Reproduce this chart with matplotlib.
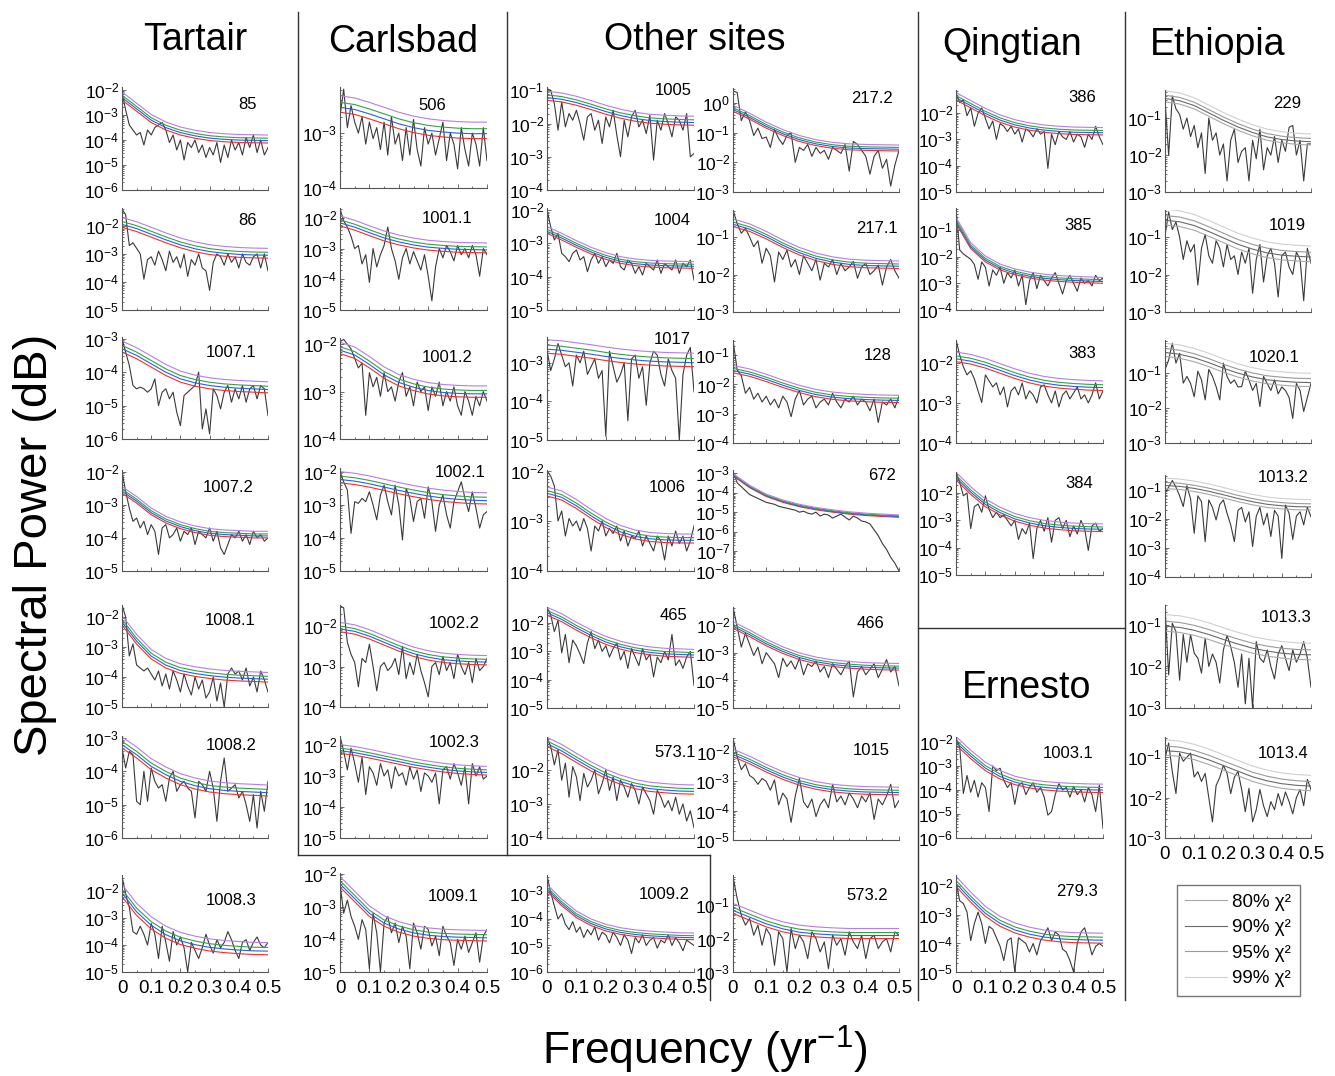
import matplotlib
matplotlib.use("Agg")
import matplotlib.pyplot as plt
from matplotlib.lines import Line2D
from matplotlib.ticker import FixedLocator, FuncFormatter, LogFormatterSciNotation, LogLocator, MultipleLocator, NullFormatter
import numpy as np

plt.rcParams["font.family"] = ["Liberation Sans", "DejaVu Sans"]
plt.rcParams["mathtext.default"] = "regular"
plt.rcParams["axes.unicode_minus"] = False

# ---- data (log10 of spectral power) ----
RED_FREQ = [0.0, 0.05, 0.1, 0.15, 0.2, 0.25, 0.3, 0.35, 0.4, 0.45, 0.5]
LEVEL_FRACTIONS = [0.0, 0.3, 0.6, 1.0]
LEVEL_NAMES = ["80% χ²", "90% χ²", "95% χ²", "99% χ²"]

TARTAIR_LABELS = ["85", "86", "1007.1", "1007.2", "1008.1", "1008.2", "1008.3"]
TARTAIR_YLIM = [(-6, -1.88), (-5, -1.36), (-6, -2.95), (-5, -1.95), (-5, -1.6), (-6, -2.94), (-5, -1.4)]
TARTAIR_SPREAD = [0.32, 0.35, 0.33, 0.2, 0.32, 0.33, 0.45]
TARTAIR_RED = [
    [-2.4, -2.85, -3.3, -3.6, -3.8, -3.93, -4.02, -4.07, -4.1, -4.11, -4.12],
    [-2.05, -2.2, -2.4, -2.6, -2.78, -2.92, -3.02, -3.08, -3.12, -3.14, -3.15],
    [-3.4, -3.6, -3.85, -4.1, -4.3, -4.42, -4.5, -4.55, -4.58, -4.6, -4.62],
    [-2.65, -2.95, -3.3, -3.55, -3.72, -3.84, -3.92, -3.96, -3.98, -4.0, -4.0],
    [-2.27, -2.9, -3.4, -3.7, -3.88, -3.98, -4.05, -4.1, -4.13, -4.15, -4.17],
    [-3.3, -3.6, -3.95, -4.2, -4.4, -4.53, -4.62, -4.67, -4.7, -4.72, -4.74],
    [-2.2, -2.9, -3.4, -3.75, -3.98, -4.12, -4.22, -4.28, -4.32, -4.35, -4.36],
]
TARTAIR_SPECTRA = [
    [-2.1, -2.8, -3.4, -3.6, -3.8, -3.7, -4.2, -3.6, -3.8, -3.5, -3.4, -3.3, -3.6, -4.1, -3.8, -4.4, -4.0, -4.8, -4.1, -4.3, -4.0,
     -4.5, -4.2, -4.7, -4.3, -4.6, -4.1, -4.9, -4.2, -4.7, -4.0, -4.4, -4.1, -4.6, -3.9, -4.3, -3.8, -4.5, -4.0, -4.6, -4.3],
    [-1.4, -1.6, -2.7, -2.6, -2.8, -3.0, -3.9, -3.2, -3.1, -3.4, -2.9, -3.2, -3.6, -2.9, -3.3, -3.1, -3.5, -3.0, -3.8, -3.2, -3.4,
     -3.0, -3.5, -3.6, -4.3, -3.3, -3.0, -3.1, -3.4, -3.0, -3.3, -3.1, -3.5, -3.0, -3.3, -3.4, -3.1, -3.0, -3.5, -3.0, -3.6],
    [-3.0, -3.4, -3.8, -4.4, -4.5, -4.45, -4.5, -4.6, -4.5, -4.2, -5.0, -4.6, -4.5, -4.8, -4.6, -5.2, -5.6, -4.7, -4.6, -4.5, -4.4,
     -4.0, -5.7, -5.1, -5.85, -4.5, -4.7, -5.1, -4.6, -4.4, -4.9, -4.5, -4.8, -4.4, -4.9, -4.5, -4.4, -4.8, -4.4, -4.5, -5.3],
    [-2.0, -2.6, -3.1, -3.5, -3.4, -3.7, -3.5, -3.9, -3.6, -3.8, -4.5, -3.7, -3.6, -4.0, -3.9, -3.7, -4.1, -3.8, -3.9, -3.7, -4.2,
     -3.8, -3.9, -4.0, -3.7, -4.1, -3.8, -4.3, -4.5, -4.2, -3.9, -4.0, -3.8, -4.1, -3.9, -4.2, -3.8, -4.0, -3.9, -4.1, -4.0],
    [-1.6, -2.0, -3.3, -2.9, -3.6, -3.7, -3.8, -3.7, -3.9, -4.1, -3.8, -4.3, -3.9, -4.4, -3.8, -4.1, -4.5, -3.9, -4.3, -4.6, -4.0,
     -4.4, -4.1, -4.7, -4.5, -4.0, -4.8, -4.2, -5.0, -3.9, -3.7, -3.9, -3.8, -4.1, -3.7, -4.3, -4.0, -4.5, -3.8, -4.1, -4.5],
    [-3.3, -3.9, -3.4, -3.5, -4.9, -5.0, -4.0, -4.9, -3.9, -4.3, -4.5, -4.4, -4.9, -4.2, -4.0, -4.6, -4.4, -4.3, -4.5, -4.6, -5.4,
     -4.3, -4.4, -4.6, -4.0, -4.5, -5.5, -4.3, -3.6, -4.6, -4.5, -4.4, -4.8, -4.6, -5.0, -5.5, -4.7, -5.7, -4.6, -5.2, -4.3],
    [-1.45, -2.1, -2.6, -3.5, -3.6, -3.3, -3.6, -4.0, -3.2, -3.6, -4.5, -3.3, -3.9, -4.6, -3.5, -4.0, -3.7, -4.1, -5.0, -3.9, -4.2,
     -4.5, -4.1, -3.6, -4.0, -4.3, -3.8, -4.1, -3.9, -3.5, -3.8, -4.2, -4.5, -3.9, -3.8, -4.2, -3.9, -3.7, -4.0, -4.1, -3.9],
]

CARLSBAD_LABELS = ["506", "1001.1", "1001.2", "1002.1", "1002.2", "1002.3", "1009.1"]
CARLSBAD_YLIM = [(-4, -2.16), (-5, -1.68), (-4, -1.87), (-5, -1.88), (-4, -1.48), (-5, -1.71), (-5, -1.97)]
CARLSBAD_SPREAD = [0.3, 0.32, 0.24, 0.34, 0.23, 0.28, 0.32]
CARLSBAD_RED = [
    [-2.62, -2.66, -2.74, -2.83, -2.92, -2.99, -3.04, -3.07, -3.09, -3.1, -3.1],
    [-2.26, -2.4, -2.58, -2.75, -2.88, -2.98, -3.05, -3.09, -3.12, -3.13, -3.14],
    [-2.2, -2.3, -2.5, -2.72, -2.88, -2.98, -3.05, -3.09, -3.11, -3.12, -3.12],
    [-2.33, -2.38, -2.46, -2.56, -2.66, -2.75, -2.83, -2.89, -2.93, -2.96, -2.97],
    [-2.14, -2.2, -2.32, -2.47, -2.62, -2.75, -2.84, -2.9, -2.93, -2.95, -2.96],
    [-2.27, -2.33, -2.42, -2.52, -2.62, -2.72, -2.8, -2.87, -2.92, -2.95, -2.97],
    [-2.4, -2.85, -3.3, -3.6, -3.78, -3.9, -3.97, -4.01, -4.03, -4.04, -4.05],
]
CARLSBAD_SPECTRA = [
    [-2.7, -2.2, -2.9, -2.5, -2.8, -3.0, -2.7, -3.2, -2.8, -3.1, -2.9, -3.3, -2.8, -3.4, -2.7, -3.2, -3.0, -3.5, -2.9, -3.4, -2.75,
     -3.3, -3.6, -2.9, -3.2, -3.0, -3.4, -3.1, -2.8, -3.5, -3.0, -3.2, -3.65, -2.9, -3.3, -3.6, -3.0, -3.2, -3.6, -2.9, -3.5],
    [-1.7, -2.1, -2.3, -2.6, -3.0, -2.9, -3.5, -3.2, -4.1, -3.0, -3.6, -3.2, -2.9, -2.3, -3.0, -3.4, -4.0, -3.3, -3.0, -3.5, -3.1,
     -3.4, -3.7, -3.2, -3.9, -4.7, -3.6, -3.0, -3.3, -2.9, -3.1, -3.4, -2.9, -3.2, -3.0, -3.3, -2.9, -3.2, -3.9, -3.0, -3.2],
    [-1.95, -1.9, -2.0, -2.1, -2.3, -2.5, -2.4, -3.5, -2.6, -2.9, -2.7, -3.1, -2.6, -3.0, -2.9, -3.2, -2.8, -2.6, -3.1, -2.9, -3.3,
     -2.8, -3.0, -2.9, -3.4, -2.9, -3.1, -2.8, -3.3, -3.0, -3.2, -2.9, -3.3, -3.5, -3.0, -3.2, -3.5, -3.1, -3.3, -3.0, -3.2],
    [-2.0, -2.3, -2.55, -3.86, -2.9, -2.95, -2.8, -2.9, -2.6, -3.0, -3.45, -2.7, -2.4, -2.9, -3.3, -2.4, -3.0, -4.06, -2.5, -2.8, -3.5,
     -2.9, -2.8, -3.4, -2.45, -2.9, -3.8, -3.0, -2.7, -3.3, -3.7, -2.9, -2.6, -2.3, -2.8, -3.2, -2.6, -3.1, -3.7, -3.3, -3.2],
    [-1.5, -1.55, -2.4, -2.7, -2.9, -3.5, -2.8, -2.9, -2.45, -3.0, -3.6, -3.0, -2.9, -3.1, -3.0, -2.8, -3.2, -2.5, -3.3, -2.9, -3.2,
     -2.7, -3.1, -3.4, -3.75, -3.0, -2.9, -3.2, -2.75, -3.1, -2.9, -3.3, -2.7, -3.0, -3.2, -2.9, -3.4, -2.8, -3.1, -3.0, -2.8],
    [-1.72, -2.2, -2.8, -2.1, -2.6, -3.2, -2.4, -3.6, -2.7, -2.9, -3.3, -2.6, -3.0, -2.8, -3.4, -2.7, -3.0, -2.9, -3.3, -2.7, -3.1,
     -2.8, -3.5, -2.9, -3.0, -3.2, -2.9, -3.9, -2.8, -2.7, -3.1, -2.6, -2.9, -3.3, -2.7, -3.9, -2.6, -3.0, -2.7, -3.1, -3.0],
    [-2.3, -3.2, -2.8, -3.3, -3.6, -4.0, -3.4, -3.7, -4.9, -3.2, -3.8, -5.0, -3.5, -3.3, -3.8, -3.5, -4.1, -3.6, -3.9, -4.9, -3.5,
     -3.8, -4.3, -3.6, -3.7, -4.2, -3.9, -4.5, -3.6, -3.9, -4.1, -4.8, -4.0, -4.3, -3.9, -4.4, -4.1, -3.8, -4.7, -3.9, -3.7],
]

OTHER1_LABELS = ["1005", "1004", "1017", "1006", "465", "573.1", "1009.2"]
OTHER1_YLIM = [(-4, -0.9), (-5, -1.94), (-5, -2.33), (-4, -1.98), (-5, -1.43), (-4, -1.03), (-6, -2.34)]
OTHER1_SPREAD = [0.27, 0.2, 0.35, 0.18, 0.28, 0.27, 0.25]
OTHER1_RED = [
    [-1.3, -1.35, -1.45, -1.58, -1.72, -1.84, -1.93, -1.99, -2.02, -2.04, -2.05],
    [-2.7, -2.9, -3.12, -3.32, -3.48, -3.6, -3.67, -3.71, -3.73, -3.74, -3.75],
    [-2.75, -2.78, -2.83, -2.88, -2.94, -2.99, -3.03, -3.06, -3.08, -3.09, -3.1],
    [-2.5, -2.58, -2.75, -2.95, -3.13, -3.27, -3.36, -3.41, -3.43, -3.44, -3.44],
    [-1.72, -1.95, -2.25, -2.52, -2.75, -2.92, -3.04, -3.12, -3.17, -3.19, -3.21],
    [-1.31, -1.52, -1.78, -2.03, -2.25, -2.42, -2.55, -2.63, -2.67, -2.7, -2.71],
    [-2.95, -3.5, -3.95, -4.25, -4.45, -4.58, -4.66, -4.71, -4.74, -4.77, -4.78],
]
OTHER1_SPECTRA = [
    [-0.95, -1.0, -1.4, -2.2, -1.35, -2.1, -1.7, -1.9, -1.6, -2.0, -2.5, -1.8, -1.7, -2.2, -1.9, -2.6, -1.8, -2.1, -1.6, -2.35, -3.0,
     -1.9, -2.4, -1.8, -1.6, -2.1, -1.9, -2.3, -1.75, -3.1, -1.9, -2.2, -1.7, -2.0, -2.4, -1.8, -1.9, -2.2, -1.7, -3.0, -2.9],
    [-2.0, -2.5, -2.9, -2.7, -3.3, -3.4, -3.55, -3.3, -3.2, -3.5, -3.4, -3.85, -3.5, -3.3, -3.6, -3.4, -3.7, -3.5, -3.6, -3.3, -3.7,
     -3.8, -3.5, -3.6, -3.9, -3.7, -3.95, -3.6, -3.7, -3.8, -3.5, -3.9, -3.6, -3.7, -3.8, -3.5, -3.9, -3.6, -3.7, -3.5, -4.1],
    [-2.66, -3.2, -2.9, -2.5, -2.8, -3.1, -3.0, -3.6, -2.8, -3.0, -2.7, -3.3, -3.1, -2.9, -3.4, -3.2, -4.9, -2.7, -3.1, -3.5, -3.3,
     -3.0, -4.5, -2.9, -2.8, -3.4, -3.1, -4.1, -3.0, -2.7, -2.8, -3.3, -3.6, -2.9, -3.2, -3.4, -5.0, -3.3, -2.8, -2.6, -3.75],
    [-2.0, -2.1, -2.3, -3.0, -2.8, -3.3, -2.95, -3.1, -3.0, -3.2, -2.95, -3.15, -3.6, -3.1, -3.2, -3.0, -3.3, -3.15, -3.25, -3.1, -3.4,
     -3.2, -3.5, -3.3, -3.35, -3.2, -3.5, -3.3, -3.45, -3.6, -3.3, -3.4, -3.78, -3.3, -3.5, -3.2, -3.45, -3.3, -3.6, -3.4, -3.1],
    [-1.45, -1.7, -2.3, -1.9, -3.05, -2.4, -3.4, -2.6, -2.8, -3.1, -3.43, -2.7, -2.3, -2.9, -2.6, -3.0, -2.8, -3.2, -2.9, -2.7, -3.3,
     -3.0, -3.6, -2.9, -3.2, -3.5, -2.9, -3.3, -3.1, -3.9, -3.2, -3.4, -3.0, -3.3, -2.4, -3.5, -3.3, -3.6, -3.2, -3.0, -4.2],
    [-1.07, -1.3, -1.85, -1.4, -2.3, -1.8, -2.8, -1.9, -2.2, -2.9, -2.1, -2.5, -2.3, -2.0, -2.7, -2.4, -2.0, -2.6, -2.2, -2.9, -2.3,
     -2.5, -2.8, -2.4, -2.6, -3.0, -2.5, -2.7, -2.9, -3.3, -2.6, -2.8, -3.1, -2.9, -3.2, -2.8, -3.3, -3.0, -3.5, -3.2, -3.7],
    [-2.35, -3.0, -3.5, -4.0, -3.8, -4.2, -4.4, -4.1, -4.5, -4.3, -4.7, -4.4, -4.6, -4.3, -4.8, -4.5, -4.6, -4.9, -4.5, -4.7, -5.0,
     -4.6, -4.8, -5.3, -4.7, -4.9, -4.6, -5.0, -4.8, -4.7, -5.1, -4.8, -4.9, -4.6, -5.0, -4.7, -4.9, -5.2, -4.8, -4.9, -5.0],
]

OTHER2_LABELS = ["217.2", "217.1", "128", "672", "466", "1015", "573.2"]
OTHER2_YLIM = [(-3, 0.5), (-3, -0.28), (-4, -0.48), (-8, -2.85), (-5, -1.35), (-5, -1.52), (-3, -0.1)]
OTHER2_SPREAD = [0.2, 0.2, 0.25, 0.12, 0.24, 0.26, 0.3]
OTHER2_RED = [
    [-0.28, -0.55, -0.85, -1.1, -1.3, -1.44, -1.53, -1.58, -1.6, -1.61, -1.62],
    [-0.72, -0.85, -1.05, -1.28, -1.48, -1.63, -1.73, -1.79, -1.82, -1.83, -1.84],
    [-1.6, -1.72, -1.9, -2.1, -2.28, -2.42, -2.51, -2.56, -2.59, -2.61, -2.62],
    [-3.15, -3.75, -4.2, -4.5, -4.72, -4.88, -5.0, -5.1, -5.17, -5.22, -5.26],
    [-2.12, -2.42, -2.75, -3.03, -3.25, -3.4, -3.5, -3.56, -3.6, -3.62, -3.63],
    [-2.16, -2.4, -2.68, -2.93, -3.13, -3.27, -3.36, -3.41, -3.44, -3.45, -3.46],
    [-1.25, -1.45, -1.65, -1.8, -1.9, -1.95, -1.98, -2.0, -2.0, -2.0, -2.0],
]
OTHER2_SPECTRA = [
    [0.4, 0.35, -0.6, -0.3, -0.6, -1.1, -0.85, -1.2, -1.15, -1.5, -0.9, -1.2, -1.4, -1.1, -1.0, -2.0, -1.5, -1.6, -1.4, -1.8, -1.5,
     -1.7, -1.6, -1.9, -1.5, -1.6, -1.7, -1.4, -2.3, -1.3, -1.4, -1.6, -1.8, -2.4, -1.8, -1.6, -2.2, -1.9, -2.8, -2.1, -1.6],
    [-0.28, -0.64, -0.9, -0.77, -1.0, -1.26, -1.1, -1.7, -1.3, -1.5, -2.2, -1.4, -1.6, -1.35, -1.8, -1.6, -2.0, -1.5, -1.7, -1.9, -1.6,
     -2.15, -1.7, -1.8, -1.6, -2.0, -1.7, -1.9, -1.8, -1.65, -2.1, -1.8, -1.7, -2.0, -1.9, -1.75, -2.28, -1.8, -1.6, -1.9, -2.1],
    [-0.48, -1.5, -1.7, -2.3, -2.1, -2.5, -2.3, -2.6, -2.4, -2.7, -2.5, -2.8, -2.4, -2.6, -3.1, -2.5, -2.2, -2.7, -2.5, -2.4, -2.8,
     -2.6, -2.5, -2.7, -2.3, -2.6, -2.8, -2.5, -2.6, -2.4, -2.7, -2.5, -2.6, -2.9, -2.5, -3.3, -2.6, -2.7, -2.5, -2.8, -2.4],
    [-2.9, -3.5, -3.7, -3.9, -4.1, -4.2, -4.3, -4.4, -4.5, -4.55, -4.6, -4.7, -4.75, -4.8, -4.85, -4.9, -5.0, -4.95, -5.05, -5.1, -5.0,
     -5.2, -5.1, -5.15, -5.3, -5.2, -5.1, -5.25, -5.4, -5.2, -5.3, -5.45, -5.5, -5.6, -5.9, -6.2, -6.6, -6.9, -7.3, -7.6, -8.0],
    [-1.35, -2.06, -2.8, -2.3, -2.7, -3.1, -2.8, -3.4, -3.0, -3.2, -3.4, -3.9, -3.2, -3.5, -3.3, -3.6, -3.2, -3.8, -3.4, -3.5, -3.3,
     -3.7, -3.5, -3.9, -3.4, -3.6, -3.8, -3.5, -3.3, -4.6, -3.7, -3.5, -3.8, -3.6, -3.4, -3.9, -3.6, -3.25, -3.7, -3.5, -4.2],
    [-1.52, -2.16, -2.6, -2.4, -2.8, -2.9, -3.1, -2.9, -3.0, -3.3, -2.95, -3.8, -3.4, -3.6, -4.4, -3.5, -2.9, -3.7, -3.9, -3.6, -4.2,
     -3.8, -3.6, -3.9, -3.1, -3.7, -3.5, -3.8, -3.4, -3.6, -3.9, -3.5, -3.7, -3.4, -4.3, -3.6, -3.8, -3.5, -3.1, -3.9, -3.65],
    [-0.15, -0.8, -1.3, -1.6, -1.4, -1.9, -1.6, -2.2, -1.7, -1.9, -2.8, -1.8, -2.0, -3.0, -1.7, -2.3, -1.9, -2.1, -2.6, -1.8, -2.0,
     -2.4, -2.1, -2.9, -1.9, -2.2, -2.0, -2.5, -1.8, -2.1, -2.3, -1.9, -2.6, -2.0, -1.9, -2.3, -2.1, -2.0, -2.4, -1.8, -1.9],
]

# Qingtian (first four) and Ernesto (last two) share one column
QE_LABELS = ["386", "385", "383", "384", "1003.1", "279.3"]
QE_YLIM = [(-5, -1.12), (-4, -0.18), (-4, -1.43), (-5, -1.23), (-6, -1.8), (-5, -1.6)]
QE_SPREAD = [0.28, 0.22, 0.24, 0.28, 0.35, 0.35]
QE_RED = [
    [-1.5, -1.8, -2.1, -2.35, -2.53, -2.65, -2.73, -2.78, -2.81, -2.82, -2.83],
    [-0.75, -1.7, -2.2, -2.5, -2.68, -2.8, -2.88, -2.93, -2.96, -2.98, -3.0],
    [-1.97, -2.03, -2.13, -2.26, -2.39, -2.5, -2.58, -2.63, -2.66, -2.68, -2.69],
    [-1.52, -2.05, -2.5, -2.8, -3.03, -3.18, -3.28, -3.34, -3.38, -3.4, -3.41],
    [-2.13, -2.7, -3.2, -3.55, -3.78, -3.92, -4.0, -4.05, -4.08, -4.1, -4.11],
    [-2.0, -2.55, -3.05, -3.4, -3.63, -3.78, -3.88, -3.94, -3.97, -3.98, -3.99],
]
QE_SPECTRA = [
    [-1.25, -1.6, -1.5, -2.1, -1.8, -2.5, -2.0, -1.8, -2.2, -2.6, -2.3, -3.0, -2.4, -2.5, -2.7, -2.5, -2.8, -2.6, -3.1, -2.6, -2.7,
     -2.9, -2.6, -2.8, -2.7, -4.1, -2.8, -3.2, -2.7, -2.9, -3.0, -2.7, -3.1, -2.8, -2.9, -3.3, -2.8, -3.0, -2.5, -2.9, -3.2],
    [-0.2, -1.75, -1.9, -2.0, -2.1, -2.3, -2.85, -2.2, -2.4, -3.1, -2.5, -2.7, -2.4, -3.0, -2.6, -2.8, -2.5, -3.1, -2.7, -3.8, -2.9,
     -2.6, -3.2, -2.7, -2.9, -3.1, -2.8, -2.6, -3.0, -3.4, -2.9, -2.7, -3.0, -3.3, -2.8, -3.0, -2.9, -3.1, -2.7, -2.9, -2.8],
    [-1.43, -1.8, -2.1, -2.3, -2.2, -2.4, -2.7, -2.99, -2.3, -2.45, -2.6, -2.5, -2.8, -2.6, -3.1, -2.7, -2.6, -2.8, -2.5, -2.9, -2.7,
     -2.8, -3.0, -2.6, -2.55, -2.8, -3.0, -2.7, -3.1, -2.8, -2.7, -2.9, -2.75, -2.6, -2.9, -2.8, -3.0, -2.8, -2.5, -2.9, -2.7],
    [-1.23, -1.6, -2.1, -2.0, -3.3, -2.5, -2.4, -2.7, -2.1, -2.6, -2.9, -2.7, -2.9, -2.8, -3.0, -3.2, -3.0, -3.7, -3.3, -3.5, -3.1,
     -4.4, -3.3, -3.0, -3.4, -2.9, -3.8, -3.0, -2.9, -3.3, -3.0, -3.6, -3.2, -3.5, -3.0, -3.3, -4.1, -3.2, -3.1, -3.4, -3.3],
    [-1.84, -2.2, -4.15, -3.4, -4.1, -3.6, -4.3, -3.7, -3.9, -4.9, -3.0, -3.2, -3.1, -3.6, -3.9, -3.7, -4.6, -3.8, -3.7, -4.2, -3.9,
     -3.7, -4.1, -3.9, -4.3, -5.05, -4.9, -4.2, -3.74, -4.0, -3.9, -4.3, -3.85, -4.2, -4.0, -4.5, -3.9, -4.2, -4.9, -3.8, -5.6],
    [-1.82, -2.5, -2.6, -2.9, -3.9, -3.3, -2.9, -3.3, -4.0, -3.4, -3.5, -3.8, -4.1, -4.6, -3.9, -3.8, -5.0, -3.8, -3.9, -4.0, -4.3,
     -4.0, -4.4, -3.9, -3.7, -3.45, -3.9, -3.6, -3.7, -4.2, -4.3, -4.6, -5.0, -4.0, -3.6, -3.45, -3.9, -4.4, -4.1, -4.0, -4.1],
]

ETHIOPIA_LABELS = ["229", "1019", "1020.1", "1013.2", "1013.3", "1013.4"]
ETHIOPIA_YLIM = [(-3, -0.24), (-3, -0.28), (-3, -0.06), (-4, -0.48), (-3, -0.52), (-3, -0.5)]
ETHIOPIA_SPREAD = [0.3, 0.42, 0.38, 0.36, 0.4, 0.38]
ETHIOPIA_RED = [
    [-0.56, -0.62, -0.75, -0.95, -1.15, -1.33, -1.48, -1.6, -1.67, -1.71, -1.73],
    [-0.68, -0.72, -0.82, -0.98, -1.15, -1.32, -1.45, -1.55, -1.61, -1.64, -1.66],
    [-0.53, -0.58, -0.68, -0.82, -0.98, -1.12, -1.23, -1.31, -1.35, -1.38, -1.39],
    [-0.95, -0.98, -1.05, -1.15, -1.27, -1.4, -1.51, -1.6, -1.65, -1.68, -1.69],
    [-1.15, -1.18, -1.25, -1.35, -1.47, -1.58, -1.68, -1.75, -1.8, -1.83, -1.84],
    [-0.95, -0.98, -1.06, -1.18, -1.32, -1.46, -1.6, -1.7, -1.77, -1.81, -1.83],
]
ETHIOPIA_SPECTRA = [
    [-0.5, -2.0, -0.4, -0.75, -0.9, -1.3, -1.0, -1.5, -1.2, -1.8, -1.4, -2.5, -1.0, -1.6, -1.4, -2.0, -1.7, -2.7, -1.6, -1.3, -2.2,
     -1.9, -1.8, -2.7, -1.6, -2.1, -1.3, -2.4, -1.8, -2.0, -1.5, -2.2, -1.6, -1.9, -1.25, -1.2, -2.0, -1.6, -2.7, -1.7, -1.7],
    [-0.97, -0.33, -0.8, -0.6, -1.0, -1.6, -1.1, -1.4, -1.2, -2.28, -1.3, -0.93, -1.5, -1.7, -1.1, -1.3, -1.8, -1.2, -1.6, -1.5, -2.0,
     -1.4, -1.7, -1.3, -2.5, -1.6, -1.2, -2.2, -1.5, -1.3, -1.7, -2.6, -1.5, -1.4, -1.8, -2.0, -1.4, -1.6, -2.7, -1.3, -1.7],
    [-0.91, -0.63, -0.15, -0.72, -0.44, -1.29, -1.1, -1.3, -1.68, -0.95, -1.2, -1.77, -0.9, -1.1, -1.39, -1.77, -0.72, -1.1, -1.3, -1.2,
     -1.4, -1.39, -0.95, -1.2, -1.5, -1.3, -1.96, -1.1, -1.3, -1.5, -1.2, -1.6, -1.4, -1.5, -1.7, -2.3, -1.3, -1.5, -2.1, -1.7, -1.3],
    [-1.11, -0.9, -0.67, -0.9, -1.2, -1.57, -0.85, -1.3, -2.49, -1.2, -1.4, -2.78, -1.34, -1.6, -2.03, -1.5, -1.34, -1.8, -2.2, -2.78,
     -1.7, -1.6, -2.1, -1.75, -2.95, -1.9, -1.6, -2.2, -1.8, -2.6, -1.7, -1.9, -3.36, -1.52, -1.8, -2.7, -1.9, -1.75, -2.2, -1.6, -1.92],
    [-0.55, -2.2, -0.96, -1.16, -2.33, -1.23, -1.9, -1.23, -1.68, -1.8, -2.16, -1.32, -2.0, -1.7, -1.9, -2.4, -1.6, -1.25, -1.52, -1.9,
     -2.5, -1.7, -2.9, -1.8, -3.0, -1.4, -1.8, -1.9, -1.6, -2.0, -2.3, -1.7, -1.5, -1.8, -2.1, -1.6, -1.9, -1.7, -1.4, -1.8, -2.5],
    [-1.03, -0.65, -1.36, -1.9, -0.9, -1.1, -1.0, -0.9, -1.49, -1.36, -1.6, -1.4, -2.0, -2.6, -1.7, -1.5, -1.2, -1.4, -1.9, -1.5, -1.35,
     -1.8, -2.35, -1.77, -2.6, -2.3, -1.8, -2.2, -2.47, -2.1, -2.3, -1.9, -2.2, -1.86, -2.1, -2.4, -2.0, -1.8, -2.2, -1.55, -1.8],
]

# ---- layout (pixels in a 1335 x 1076 canvas) ----
W, H = 1335, 1076
COLOURED = ["#e8332c", "#2f5fd3", "#2fa34a", "#b77fe0"]
GREYS = ["#a8a8a8", "#6a6a6a", "#9a9a9a", "#d0d0d0"]

COLUMNS = [
    dict(x=(122, 268), rows=[(87, 190), (208, 310), (337, 439), (470, 571), (605, 707), (736, 838), (875, 972)],
         spots=[(0.86, 0.83), (0.86, 0.88), (0.75, 0.85), (0.73, 0.83), (0.74, 0.85), (0.75, 0.91), (0.75, 0.74)],
         labels=TARTAIR_LABELS, ylim=TARTAIR_YLIM, spread=TARTAIR_SPREAD, red=TARTAIR_RED, spectra=TARTAIR_SPECTRA, colours=COLOURED),
    dict(x=(340, 487), rows=[(87, 188), (208, 310), (338, 439), (468, 571), (605, 707), (736, 838), (873, 972)],
         spots=[(0.63, 0.82), (0.73, 0.9), (0.73, 0.81), (0.82, 0.96), (0.78, 0.82), (0.78, 0.94), (0.77, 0.76)],
         labels=CARLSBAD_LABELS, ylim=CARLSBAD_YLIM, spread=CARLSBAD_SPREAD, red=CARLSBAD_RED, spectra=CARLSBAD_SPECTRA, colours=COLOURED),
    dict(x=(547, 694), rows=[(87, 190), (208, 310), (337, 440), (470, 571), (607, 708), (737, 838), (875, 972)],
         spots=[(0.86, 0.97), (0.85, 0.88), (0.85, 0.98), (0.82, 0.83), (0.86, 0.92), (0.87, 0.85), (0.8, 0.8)],
         labels=OTHER1_LABELS, ylim=OTHER1_YLIM, spread=OTHER1_SPREAD, red=OTHER1_RED, spectra=OTHER1_SPECTRA, colours=COLOURED),
    dict(x=(733, 899), rows=[(88, 192), (210, 312), (340, 443), (470, 571), (607, 708), (738, 840), (875, 972)],
         spots=[(0.84, 0.9), (0.87, 0.82), (0.87, 0.85), (0.9, 0.95), (0.83, 0.84), (0.83, 0.88), (0.81, 0.79)],
         labels=OTHER2_LABELS, ylim=OTHER2_YLIM, spread=OTHER2_SPREAD, red=OTHER2_RED, spectra=OTHER2_SPECTRA, colours=COLOURED),
    dict(x=(956, 1103), rows=[(90, 192), (208, 310), (340, 443), (472, 575), (737, 838), (875, 972)],
         spots=[(0.86, 0.93), (0.83, 0.83), (0.86, 0.87), (0.84, 0.89), (0.76, 0.84), (0.82, 0.83)],
         labels=QE_LABELS, ylim=QE_YLIM, spread=QE_SPREAD, red=QE_RED, spectra=QE_SPECTRA, colours=COLOURED),
    dict(x=(1165, 1311), rows=[(90, 192), (210, 312), (340, 443), (475, 577), (605, 708), (737, 838)],
         spots=[(0.84, 0.87), (0.84, 0.85), (0.75, 0.83), (0.81, 0.98), (0.83, 0.88), (0.81, 0.84)],
         labels=ETHIOPIA_LABELS, ylim=ETHIOPIA_YLIM, spread=ETHIOPIA_SPREAD, red=ETHIOPIA_RED, spectra=ETHIOPIA_SPECTRA, colours=GREYS),
]

TITLES = [("Tartair", 195, 40), ("Carlsbad", 403, 42), ("Other sites", 695, 40),
          ("Qingtian", 1012, 45), ("Ethiopia", 1218, 45), ("Ernesto", 1027, 688)]
SEPARATORS = [((298, 298), (12, 855)), ((298, 710), (855, 855)), ((507, 507), (12, 855)), ((710, 710), (855, 1000)),
              ((918, 918), (12, 1000)), ((918, 1125), (628, 628)), ((1125, 1125), (12, 1000))]


def fx(px):
    return px / W


def fy(py):
    return 1 - py / H


def draw_panel(fig, xr, row, ylim, spectrum, red, spread, label, spot, colours, show_x):
    (x0, x1), (top, bottom) = xr, row
    ax = fig.add_axes([fx(x0), fy(bottom), (x1 - x0) / W, (bottom - top) / H])
    freq = np.linspace(0, 0.5, len(spectrum))
    ax.plot(freq, 10 ** np.array(spectrum), color="#3a3a3a", lw=0.8)
    lines = []
    for frac, colour in zip(LEVEL_FRACTIONS, colours):
        line, = ax.plot(RED_FREQ, 10 ** (np.array(red) + frac * spread), color=colour, lw=0.8)
        lines.append(line)
    ax.set_yscale("log")
    ax.set_xlim(0, 0.5)
    ax.set_ylim(10.0 ** ylim[0], 10.0 ** ylim[1])
    decades = np.arange(np.ceil(ylim[0]), np.floor(ylim[1]) + 1)
    ax.yaxis.set_major_locator(FixedLocator(10.0 ** decades))
    ax.yaxis.set_major_formatter(LogFormatterSciNotation())
    ax.yaxis.set_minor_locator(LogLocator(base=10, subs=np.arange(2, 10), numticks=20))
    ax.yaxis.set_minor_formatter(NullFormatter())
    ax.xaxis.set_major_locator(MultipleLocator(0.1))
    ax.xaxis.set_minor_locator(MultipleLocator(0.05))
    ax.xaxis.set_major_formatter(FuncFormatter(lambda v, p: "{:g}".format(round(v, 2))))
    for side in ("top", "right"):
        ax.spines[side].set_visible(False)
    for side in ("left", "bottom"):
        ax.spines[side].set_color("#555555")
        ax.spines[side].set_linewidth(0.8)
    ax.tick_params(which="both", direction="in", color="#555555", width=0.6)
    ax.tick_params(which="major", length=3)
    ax.tick_params(which="minor", length=1.5)
    ax.tick_params(axis="y", labelsize=12.5, pad=2)
    ax.tick_params(axis="x", labelsize=13.5, pad=6, labelbottom=show_x)
    ax.text(spot[0], spot[1], label, transform=ax.transAxes, ha="center", va="center", fontsize=12)
    return lines


fig = plt.figure(figsize=(W / 100, H / 100), dpi=100)

legend_lines = None
for col in COLUMNS:
    n = len(col["labels"])
    for i in range(n):
        lines = draw_panel(fig, col["x"], col["rows"][i], col["ylim"][i], col["spectra"][i], col["red"][i],
                           col["spread"][i], col["labels"][i], col["spots"][i], col["colours"], i == n - 1)
    if col["colours"] is GREYS:
        legend_lines = lines

for (xa, xb), (ya, yb) in SEPARATORS:
    fig.add_artist(Line2D([fx(xa), fx(xb)], [fy(ya), fy(yb)], color="#333333", lw=1.0))

for text, x, y in TITLES:
    fig.text(fx(x), fy(y), text, ha="center", va="center", fontsize=27)

fig.text(fx(35), fy(545), "Spectral Power (dB)", rotation=90, ha="center", va="center", fontsize=34)
fig.text(fx(705), fy(1050), "Frequency (yr$^{-1}$)", ha="center", va="center", fontsize=32)

fig.legend(legend_lines, LEVEL_NAMES, loc="upper left", bbox_to_anchor=(fx(1177), fy(885)), frameon=True,
           fancybox=False, edgecolor="#555555", fontsize=13.5, handlelength=2.2, handletextpad=0.3,
           labelspacing=0.45, borderpad=0.45, borderaxespad=0.0)

fig.savefig("out.png", dpi=100)
